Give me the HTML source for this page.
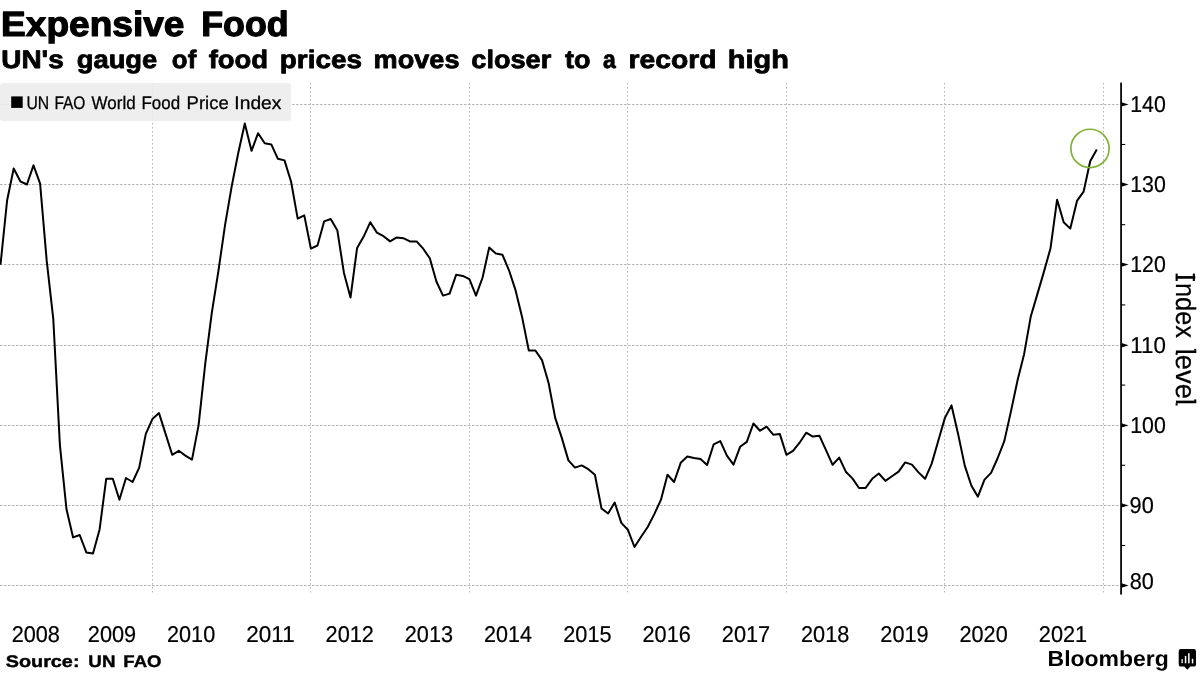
<!DOCTYPE html>
<html><head><meta charset="utf-8"><title>Expensive Food</title>
<style>
html,body{margin:0;padding:0;background:#fff;}
body{width:1200px;height:675px;overflow:hidden;font-family:"Liberation Sans",sans-serif;}
svg{display:block;will-change:transform;}
text{font-family:"Liberation Sans",sans-serif;fill:#000;text-rendering:geometricPrecision;}
.b{font-weight:bold;}
</style></head><body>
<svg width="1200" height="675" viewBox="0 0 1200 675">
<rect x="0" y="0" width="1200" height="675" fill="#ffffff"/>
<g stroke="#b6b6b6" stroke-width="1" stroke-dasharray="2.6 1.4" fill="none">
<line x1="0" y1="104.5" x2="1120" y2="104.5"/>
<line x1="0" y1="184.5" x2="1120" y2="184.5"/>
<line x1="0" y1="264.5" x2="1120" y2="264.5"/>
<line x1="0" y1="345.5" x2="1120" y2="345.5"/>
<line x1="0" y1="425.5" x2="1120" y2="425.5"/>
<line x1="0" y1="505.5" x2="1120" y2="505.5"/>
<line x1="0" y1="585.5" x2="1120" y2="585.5"/>
</g>
<g stroke="#b8b8b8" stroke-width="1" stroke-dasharray="1.6 2.4" fill="none">
<line x1="152.5" y1="83" x2="152.5" y2="594"/>
<line x1="310.5" y1="83" x2="310.5" y2="594"/>
<line x1="469.5" y1="83" x2="469.5" y2="594"/>
<line x1="627.5" y1="83" x2="627.5" y2="594"/>
<line x1="786.5" y1="83" x2="786.5" y2="594"/>
<line x1="944.5" y1="83" x2="944.5" y2="594"/>
<line x1="1103.5" y1="83" x2="1103.5" y2="594"/>
</g>
<rect x="0" y="83" width="291" height="38" rx="3" fill="#ececec" fill-opacity="0.9"/>
<text class="b" x="1.12" y="35.9" font-size="35.0" textLength="183.29" lengthAdjust="spacingAndGlyphs" stroke="#000" stroke-width="1.2" stroke-linejoin="round">Expensive</text>
<text class="b" x="201.20" y="35.9" font-size="35.0" textLength="87.56" lengthAdjust="spacingAndGlyphs" stroke="#000" stroke-width="1.2" stroke-linejoin="round">Food</text>
<text class="b" x="1.22" y="67.8" font-size="25.3" textLength="62.52" lengthAdjust="spacingAndGlyphs" stroke="#000" stroke-width="0.8" stroke-linejoin="round">UN&#39;s</text>
<text class="b" x="76.78" y="67.8" font-size="25.3" textLength="80.51" lengthAdjust="spacingAndGlyphs" stroke="#000" stroke-width="0.8" stroke-linejoin="round">gauge</text>
<text class="b" x="171.89" y="67.8" font-size="25.3" textLength="24.41" lengthAdjust="spacingAndGlyphs" stroke="#000" stroke-width="0.8" stroke-linejoin="round">of</text>
<text class="b" x="208.68" y="67.8" font-size="25.3" textLength="59.48" lengthAdjust="spacingAndGlyphs" stroke="#000" stroke-width="0.8" stroke-linejoin="round">food</text>
<text class="b" x="279.81" y="67.8" font-size="25.3" textLength="82.18" lengthAdjust="spacingAndGlyphs" stroke="#000" stroke-width="0.8" stroke-linejoin="round">prices</text>
<text class="b" x="373.61" y="67.8" font-size="25.3" textLength="85.85" lengthAdjust="spacingAndGlyphs" stroke="#000" stroke-width="0.8" stroke-linejoin="round">moves</text>
<text class="b" x="471.34" y="67.8" font-size="25.3" textLength="79.92" lengthAdjust="spacingAndGlyphs" stroke="#000" stroke-width="0.8" stroke-linejoin="round">closer</text>
<text class="b" x="565.07" y="67.8" font-size="25.3" textLength="25.59" lengthAdjust="spacingAndGlyphs" stroke="#000" stroke-width="0.8" stroke-linejoin="round">to</text>
<text class="b" x="602.98" y="67.8" font-size="25.3" textLength="12.73" lengthAdjust="spacingAndGlyphs" stroke="#000" stroke-width="0.8" stroke-linejoin="round">a</text>
<text class="b" x="628.54" y="67.8" font-size="25.3" textLength="87.92" lengthAdjust="spacingAndGlyphs" stroke="#000" stroke-width="0.8" stroke-linejoin="round">record</text>
<text class="b" x="727.88" y="67.8" font-size="25.3" textLength="61.01" lengthAdjust="spacingAndGlyphs" stroke="#000" stroke-width="0.8" stroke-linejoin="round">high</text>
<rect x="11.2" y="96.4" width="11.5" height="11.5" fill="#000"/>
<text x="26.44" y="109.0" font-size="18.2" textLength="22.69" lengthAdjust="spacingAndGlyphs" stroke="#000" stroke-width="0.3" stroke-linejoin="round">UN</text>
<text x="54.41" y="109.0" font-size="18.2" textLength="30.96" lengthAdjust="spacingAndGlyphs" stroke="#000" stroke-width="0.3" stroke-linejoin="round">FAO</text>
<text x="91.58" y="109.0" font-size="18.2" textLength="44.06" lengthAdjust="spacingAndGlyphs" stroke="#000" stroke-width="0.3" stroke-linejoin="round">World</text>
<text x="141.46" y="109.0" font-size="18.2" textLength="38.69" lengthAdjust="spacingAndGlyphs" stroke="#000" stroke-width="0.3" stroke-linejoin="round">Food</text>
<text x="186.64" y="109.0" font-size="18.2" textLength="42.03" lengthAdjust="spacingAndGlyphs" stroke="#000" stroke-width="0.3" stroke-linejoin="round">Price</text>
<text x="234.38" y="109.0" font-size="18.2" textLength="46.98" lengthAdjust="spacingAndGlyphs" stroke="#000" stroke-width="0.3" stroke-linejoin="round">Index</text>
<rect x="1120.2" y="82.6" width="1.75" height="512" fill="#000"/>
<path d="M1121.5 102.2 L1128.6 104.4 L1121.5 106.6 Z" fill="#000"/>
<text x="1130.28" y="111.9" font-size="22.8" textLength="35.56" lengthAdjust="spacingAndGlyphs" stroke="#000" stroke-width="0.2" stroke-linejoin="round">140</text>
<path d="M1121.5 182.3 L1128.6 184.5 L1121.5 186.7 Z" fill="#000"/>
<text x="1130.28" y="192.0" font-size="22.8" textLength="35.56" lengthAdjust="spacingAndGlyphs" stroke="#000" stroke-width="0.2" stroke-linejoin="round">130</text>
<path d="M1121.5 262.4 L1128.6 264.6 L1121.5 266.8 Z" fill="#000"/>
<text x="1130.28" y="272.1" font-size="22.8" textLength="35.56" lengthAdjust="spacingAndGlyphs" stroke="#000" stroke-width="0.2" stroke-linejoin="round">120</text>
<path d="M1121.5 343.0 L1128.6 345.2 L1121.5 347.4 Z" fill="#000"/>
<text x="1130.28" y="352.7" font-size="22.8" textLength="35.56" lengthAdjust="spacingAndGlyphs" stroke="#000" stroke-width="0.2" stroke-linejoin="round">110</text>
<path d="M1121.5 423.2 L1128.6 425.4 L1121.5 427.6 Z" fill="#000"/>
<text x="1130.28" y="432.9" font-size="22.8" textLength="35.56" lengthAdjust="spacingAndGlyphs" stroke="#000" stroke-width="0.2" stroke-linejoin="round">100</text>
<path d="M1121.5 503.2 L1128.6 505.4 L1121.5 507.6 Z" fill="#000"/>
<text x="1129.58" y="512.9" font-size="22.8" textLength="24.17" lengthAdjust="spacingAndGlyphs" stroke="#000" stroke-width="0.2" stroke-linejoin="round">90</text>
<path d="M1121.5 583.3 L1128.6 585.5 L1121.5 587.7 Z" fill="#000"/>
<text x="1129.66" y="589.1" font-size="22.8" textLength="24.09" lengthAdjust="spacingAndGlyphs" stroke="#000" stroke-width="0.2" stroke-linejoin="round">80</text>
<line x1="1121" y1="144.5" x2="1125.2" y2="144.5" stroke="#000" stroke-width="1.1"/>
<line x1="1121" y1="224.7" x2="1125.2" y2="224.7" stroke="#000" stroke-width="1.1"/>
<line x1="1121" y1="304.9" x2="1125.2" y2="304.9" stroke="#000" stroke-width="1.1"/>
<line x1="1121" y1="385.1" x2="1125.2" y2="385.1" stroke="#000" stroke-width="1.1"/>
<line x1="1121" y1="465.3" x2="1125.2" y2="465.3" stroke="#000" stroke-width="1.1"/>
<line x1="1121" y1="545.5" x2="1125.2" y2="545.5" stroke="#000" stroke-width="1.1"/>
<g transform="translate(1175.6,0) rotate(90)">
<text x="273.43" y="0" font-size="27.8" textLength="7.75" lengthAdjust="spacingAndGlyphs" stroke="#000" stroke-width="0.2" stroke-linejoin="round">I</text>
<rect x="273.6" y="-2.1" width="7.4" height="2.1" fill="#000"/><rect x="273.6" y="-19.3" width="7.4" height="2.1" fill="#000"/>
<text x="282.91" y="0" font-size="27.8" textLength="55.06" lengthAdjust="spacingAndGlyphs" stroke="#000" stroke-width="0.2" stroke-linejoin="round">ndex</text>
<text x="348.65" y="0" font-size="27.8" textLength="56.60" lengthAdjust="spacingAndGlyphs" stroke="#000" stroke-width="0.2" stroke-linejoin="round">level</text>
<rect x="348.9" y="-20.6" width="1.8" height="2" fill="#000"/><rect x="352.7" y="-2" width="2.2" height="2" fill="#000"/><rect x="399.4" y="-20.6" width="1.8" height="2" fill="#000"/><rect x="403.2" y="-2" width="2.3" height="2" fill="#000"/>
</g>
<text x="11.71" y="641.5" font-size="22.8" textLength="48.23" lengthAdjust="spacingAndGlyphs" stroke="#000" stroke-width="0.2" stroke-linejoin="round">2008</text>
<text x="87.81" y="641.5" font-size="22.8" textLength="48.32" lengthAdjust="spacingAndGlyphs" stroke="#000" stroke-width="0.2" stroke-linejoin="round">2009</text>
<text x="167.06" y="641.5" font-size="22.8" textLength="48.13" lengthAdjust="spacingAndGlyphs" stroke="#000" stroke-width="0.2" stroke-linejoin="round">2010</text>
<text x="246.31" y="641.5" font-size="22.8" textLength="48.35" lengthAdjust="spacingAndGlyphs" stroke="#000" stroke-width="0.2" stroke-linejoin="round">2011</text>
<text x="325.56" y="641.5" font-size="22.8" textLength="48.39" lengthAdjust="spacingAndGlyphs" stroke="#000" stroke-width="0.2" stroke-linejoin="round">2012</text>
<text x="404.81" y="641.5" font-size="22.8" textLength="48.24" lengthAdjust="spacingAndGlyphs" stroke="#000" stroke-width="0.2" stroke-linejoin="round">2013</text>
<text x="484.07" y="641.5" font-size="22.8" textLength="47.91" lengthAdjust="spacingAndGlyphs" stroke="#000" stroke-width="0.2" stroke-linejoin="round">2014</text>
<text x="563.31" y="641.5" font-size="22.8" textLength="48.20" lengthAdjust="spacingAndGlyphs" stroke="#000" stroke-width="0.2" stroke-linejoin="round">2015</text>
<text x="642.56" y="641.5" font-size="22.8" textLength="48.24" lengthAdjust="spacingAndGlyphs" stroke="#000" stroke-width="0.2" stroke-linejoin="round">2016</text>
<text x="721.81" y="641.5" font-size="22.8" textLength="48.39" lengthAdjust="spacingAndGlyphs" stroke="#000" stroke-width="0.2" stroke-linejoin="round">2017</text>
<text x="801.06" y="641.5" font-size="22.8" textLength="48.23" lengthAdjust="spacingAndGlyphs" stroke="#000" stroke-width="0.2" stroke-linejoin="round">2018</text>
<text x="880.31" y="641.5" font-size="22.8" textLength="48.32" lengthAdjust="spacingAndGlyphs" stroke="#000" stroke-width="0.2" stroke-linejoin="round">2019</text>
<text x="959.56" y="641.5" font-size="22.8" textLength="48.13" lengthAdjust="spacingAndGlyphs" stroke="#000" stroke-width="0.2" stroke-linejoin="round">2020</text>
<text x="1038.81" y="641.5" font-size="22.8" textLength="48.35" lengthAdjust="spacingAndGlyphs" stroke="#000" stroke-width="0.2" stroke-linejoin="round">2021</text>
<text class="b" x="5.73" y="667.3" font-size="16.8" textLength="73.78" lengthAdjust="spacingAndGlyphs" stroke="#000" stroke-width="0.4" stroke-linejoin="round">Source:</text>
<text class="b" x="88.37" y="667.3" font-size="16.8" textLength="27.09" lengthAdjust="spacingAndGlyphs" stroke="#000" stroke-width="0.4" stroke-linejoin="round">UN</text>
<text class="b" x="123.39" y="667.3" font-size="16.8" textLength="38.17" lengthAdjust="spacingAndGlyphs" stroke="#000" stroke-width="0.4" stroke-linejoin="round">FAO</text>
<text class="b" x="1047.56" y="666.4" font-size="21.9" textLength="121.27" lengthAdjust="spacingAndGlyphs">Bloomberg</text>
<g>
<path d="M1180.9 649 h12.9 a2.2 2.2 0 0 1 2.2 2.2 v13.2 a2.2 2.2 0 0 1 -2.2 2.2 h-3.4 l-3.1 3.2 l-3.1 -3.2 h-3.3 a2.2 2.2 0 0 1 -2.2 -2.2 v-13.2 a2.2 2.2 0 0 1 2.2 -2.2 z" fill="#000"/>
<rect x="1181.4" y="659" width="1.5" height="4.2" fill="#fff" fill-opacity="0.8"/>
<rect x="1184.8" y="655.9" width="1.5" height="7.4" fill="#fff"/>
<rect x="1188.1" y="653.2" width="1.5" height="10.1" fill="#fff"/>
<rect x="1191.8" y="658.8" width="1.5" height="4.6" fill="#fff"/>
</g>
<polyline points="0.5,264.7 7.1,200.5 13.7,168.5 20.3,181.3 26.9,184.5 33.5,165.3 40.1,183.7 46.7,260.7 53.3,319.2 59.9,445.1 66.5,509.3 73.1,537.4 79.7,535.0 86.4,552.6 93.0,553.4 99.6,529.4 106.2,478.8 112.8,478.8 119.4,499.7 126.0,478.0 132.6,482.0 139.2,467.6 145.8,433.9 152.4,419.1 159.0,413.1 165.6,433.9 172.2,454.8 178.8,450.8 185.4,455.6 192.0,459.6 198.6,425.1 205.2,364.1 211.8,312.8 218.4,271.1 225.0,225.4 231.6,186.9 238.2,153.2 244.8,123.5 251.5,150.8 258.1,133.2 264.7,143.2 271.3,144.4 277.9,158.8 284.5,160.4 291.1,181.7 297.7,218.6 304.3,215.4 310.9,248.7 317.5,245.5 324.1,221.4 330.7,219.0 337.3,230.2 343.9,272.7 350.5,297.6 357.1,247.9 363.7,236.6 370.3,222.2 376.9,232.6 383.5,236.2 390.1,241.4 396.7,237.4 403.3,238.2 409.9,241.4 416.6,241.4 423.2,248.7 429.8,258.3 436.4,281.5 443.0,295.6 449.6,293.6 456.2,274.7 462.8,275.9 469.4,279.1 476.0,295.6 482.6,277.5 489.2,247.5 495.8,253.5 502.4,254.7 509.0,270.3 515.6,290.4 522.2,317.6 528.8,350.5 535.4,350.5 542.0,360.1 548.6,383.0 555.2,417.9 561.8,437.9 568.4,460.4 575.0,467.6 581.7,465.4 588.3,469.2 594.9,474.8 601.5,508.5 608.1,513.5 614.7,502.5 621.3,522.9 627.9,529.8 634.5,547.0 641.1,536.8 647.7,527.0 654.3,514.1 660.9,499.9 667.5,474.8 674.1,482.0 680.7,462.8 687.3,456.6 693.9,458.0 700.5,459.1 707.1,464.9 713.7,444.3 720.3,441.1 726.9,455.6 733.5,464.6 740.1,446.8 746.8,441.9 753.4,423.5 760.0,430.7 766.6,426.7 773.2,434.7 779.8,433.9 786.4,454.8 793.0,450.8 799.6,442.7 806.2,432.7 812.8,436.6 819.4,435.7 826.0,450.2 832.6,464.8 839.2,457.6 845.8,471.7 852.4,478.4 859.0,488.0 865.6,488.0 872.2,478.8 878.8,473.5 885.4,480.9 892.0,476.2 898.6,471.7 905.2,462.4 911.9,464.6 918.5,472.4 925.1,478.8 931.7,463.6 938.3,440.7 944.9,417.9 951.5,405.4 958.1,433.9 964.7,465.4 971.3,485.5 977.9,496.7 984.5,479.6 991.1,472.9 997.7,458.0 1004.3,441.1 1010.9,411.6 1017.5,380.5 1024.1,354.2 1030.7,316.8 1037.3,294.4 1043.9,271.9 1050.5,248.3 1057.1,199.7 1063.7,222.2 1070.3,228.6 1077.0,200.9 1083.6,191.7 1090.2,161.2 1096.8,149.6" fill="none" stroke="#000" stroke-width="2.0" stroke-linejoin="round" stroke-linecap="butt"/>
<circle cx="1090" cy="148.4" r="19.15" fill="none" stroke="#80b338" stroke-width="1.7"/>
</svg>
</body></html>
